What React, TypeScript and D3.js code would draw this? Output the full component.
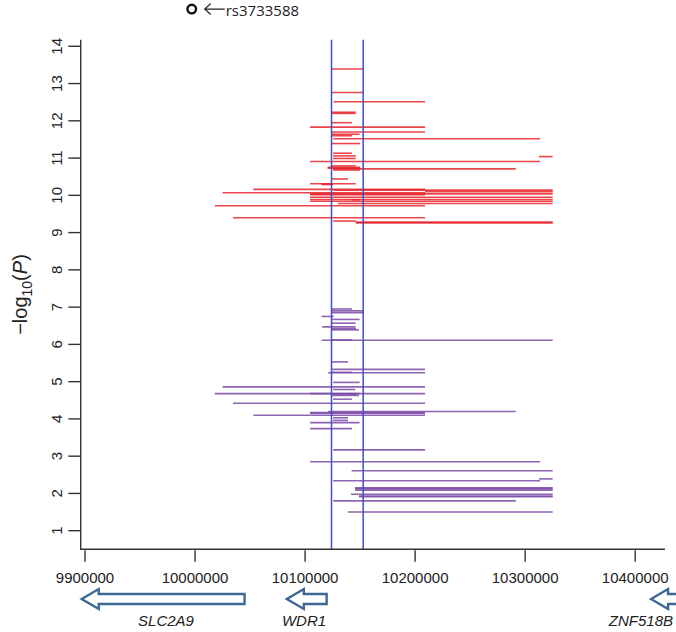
import React from "react";
import * as d3 from "d3";

// ---- data (genomic position start, end, -log10(P)) ----
const redStart = [10124000,10124000,10126000,10124000,10124000,10124000,10104500,10124000,10124000,10124000,10125500,10124000,10125500,10125500,10312500,10125500,10104500,10124000,10120500,10120500,10125500,10125500,10124000,10104500,10115000,10115000,10053000,10125500,10025000,10104500,10104500,10209000,10104500,10104500,10104500,10130000,10142000,10018000,10034500,10125500,10146000,10146000];
const redEnd =   [10153000,10153000,10209000,10146000,10146000,10142500,10209000,10209000,10149500,10142500,10313500,10150000,10142500,10146000,10325000,10146000,10313500,10146000,10150000,10150000,10291500,10150000,10139000,10146000,10125500,10125500,10209000,10325000,10209000,10325000,10209000,10325000,10325000,10325000,10325000,10325000,10149500,10209000,10209000,10146000,10325000,10325000];
const redP =     [13.39,12.76,12.51,12.20,12.23,11.95,11.83,11.70,11.64,11.60,11.52,11.39,11.13,11.06,11.04,10.99,10.91,10.79,10.73,10.75,10.71,10.68,10.44,10.31,10.29,10.31,10.16,10.14,10.07,10.04,10.02,10.10,9.95,9.89,9.84,9.78,9.88,9.72,9.40,9.31,9.28,9.26];

const purpleStart = [10124000,10124000,10124000,10115000,10124000,10124000,10115500,10124000,10124000,10115000,10124000,10124000,10124000,10121000,10124000,10125500,10025000,10125500,10018000,10104500,10125500,10124000,10125500,10034500,10121000,10104500,10104500,10053000,10125500,10125500,10104500,10104500,10125500,10104500,10142300,10312600,10125500,10145400,10145400,10145400,10141700,10149000,10149000,10125500,10138700];
const purpleEnd =   [10142500,10153000,10153000,10126000,10149500,10146000,10146000,10146500,10149000,10325000,10142500,10139000,10209000,10209000,10142500,10149500,10209000,10145500,10209000,10149500,10146000,10149000,10142500,10209000,10291500,10209000,10209000,10209000,10139000,10139000,10149500,10142500,10209000,10313500,10325000,10325000,10313500,10325000,10325000,10325000,10325000,10325000,10325000,10291500,10325000];
const purpleP =     [6.95,6.90,6.85,6.75,6.67,6.57,6.47,6.42,6.39,6.11,6.12,5.53,5.33,5.24,5.25,4.98,4.86,4.79,4.68,4.68,4.67,4.63,4.53,4.42,4.20,4.17,4.15,4.10,4.03,3.96,3.90,3.74,3.17,2.85,2.61,2.39,2.34,2.13,2.15,2.09,1.98,1.93,1.91,1.80,1.50];

const boundaryLines = [10124000, 10152800];

const xTicks = [9900000, 10000000, 10100000, 10200000, 10300000, 10400000];
const yTicks = [1, 2, 3, 4, 5, 6, 7, 8, 9, 10, 11, 12, 13, 14];

const topSnpName = ["rs3733588"];
const topSnpPos = [9997000];
const topSnpP = [15.0];

const geneNames = ["SLC2A9", "WDR1", "ZNF518B"];
const geneStart = [9897000, 10083400, 10414400];
const geneEnd = [10045000, 10119600, 10450000];
const geneLabelPos = [9973600, 10099000];

export default function App() {
  const W = 676, H = 632;
  const left = 80.7, right = 665, top = 39.7, bottom = 549.3;
  const x = d3.scaleLinear().domain([9896092, 10427070]).range([left, right]);
  const y = d3.scaleLinear().domain([0.5008, 14.177]).range([bottom, top]);
  const axisColor = "#333";
  const font = "'Liberation Sans', Arial, sans-serif";

  const red = redP.map((p, i) => ({ s: redStart[i], e: redEnd[i], p }));
  const purple = purpleP.map((p, i) => ({ s: purpleStart[i], e: purpleEnd[i], p }));

  const arrowY = 599;
  const headH = 10, bodyH = 5, headL = 17;
  const arrowPath = (s: number, e: number) => {
    const x0 = x(s), x1 = x(e);
    const hx = x0 + headL;
    return `M${x0},${arrowY} L${hx},${arrowY - headH} L${hx},${arrowY - bodyH} L${x1},${arrowY - bodyH} L${x1},${arrowY + bodyH} L${hx},${arrowY + bodyH} L${hx},${arrowY + headH} Z`;
  };

  const snpX = x(topSnpPos[0]);
  const snpY = y(topSnpP[0]);

  return (
    <svg width={W} height={H} style={{ position: "absolute", left: 0, top: 0, background: "#fff" }} fontFamily={font}>
      <rect width={W} height={H} fill="#fff" />
      {/* segments */}
      <g>
        {red.map((d, i) => (
          <line key={"r" + i} x1={x(d.s)} x2={x(d.e)} y1={y(d.p)} y2={y(d.p)} stroke="#e8242a" strokeOpacity={0.85} strokeWidth={1.6} />
        ))}
        {purple.map((d, i) => (
          <line key={"p" + i} x1={x(d.s)} x2={x(d.e)} y1={y(d.p)} y2={y(d.p)} stroke="#7a49a6" strokeOpacity={0.85} strokeWidth={1.6} />
        ))}
      </g>
      {/* boundary lines */}
      {boundaryLines.map((b, i) => (
        <line key={"b" + i} x1={x(b)} x2={x(b)} y1={top} y2={bottom} stroke="#4050c0" strokeWidth={1.5} />
      ))}
      {/* axes box (L) */}
      <path d={`M${left},${top} L${left},${bottom} L${right},${bottom}`} fill="none" stroke={axisColor} strokeWidth={1.4} />
      {yTicks.map((t) => (
        <g key={"yt" + t}>
          <line x1={left - 12.4} x2={left} y1={y(t)} y2={y(t)} stroke={axisColor} strokeWidth={1.4} />
          <text transform={`translate(62,${y(t)}) rotate(-90)`} textAnchor="middle" fontSize={15} fill="#222">{t}</text>
        </g>
      ))}
      {xTicks.map((t) => (
        <g key={"xt" + t}>
          <line x1={x(t)} x2={x(t)} y1={bottom + 1} y2={bottom + 12.4} stroke={axisColor} strokeWidth={1.4} />
          <text x={x(t)} y={583} textAnchor="middle" fontSize={15} fill="#222">{t}</text>
        </g>
      ))}
      {/* y-axis title */}
      <text transform={`translate(27,${(top + bottom) / 2}) rotate(-90)`} textAnchor="middle" fontSize={20} fill="#222">
        −log<tspan fontSize={14} dy={5}>10</tspan><tspan dy={-5}>(</tspan><tspan fontStyle="italic">P</tspan>)
      </text>
      {/* top SNP */}
      <circle cx={snpX} cy={snpY} r={4.3} fill="none" stroke="#111" strokeWidth={2.4} />
      <path d={`M${snpX + 33},${snpY} H${snpX + 13} M${snpX + 19},${snpY - 5.5} L${snpX + 13},${snpY} L${snpX + 19},${snpY + 5.5}`} fill="none" stroke="#222" strokeWidth={1.2} />
      <text x={snpX + 34} y={snpY + 6.5} fontSize={15} fill="#222" fontFamily="'Open Sans', sans-serif">{topSnpName[0]}</text>
      {/* genes */}
      {geneNames.map((g, i) => (
        <path key={g} d={arrowPath(geneStart[i], geneEnd[i])} fill="#fff" stroke="#3d6895" strokeWidth={2.4} />
      ))}
      <text x={x(geneLabelPos[0])} y={626} textAnchor="middle" fontSize={15} fontStyle="italic" fill="#222">{geneNames[0]}</text>
      <text x={x(geneLabelPos[1])} y={626} textAnchor="middle" fontSize={15} fontStyle="italic" fill="#222">{geneNames[1]}</text>
      <text x={673} y={626} textAnchor="end" fontSize={15} fontStyle="italic" fill="#222">{geneNames[2]}</text>
    </svg>
  );
}
